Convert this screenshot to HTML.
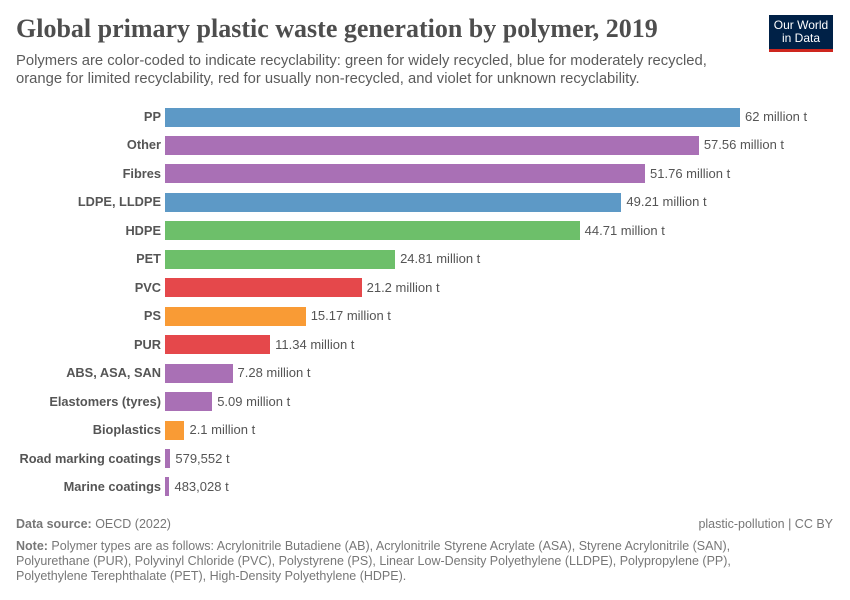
<!DOCTYPE html>
<html><head><style>
body{margin:0;width:850px;height:600px;background:#fff;font-family:"Liberation Sans",sans-serif;position:relative;overflow:hidden}
.a{position:absolute;white-space:nowrap}
.t{left:16px;top:14px;font-family:"Liberation Serif",serif;font-size:26px;font-weight:bold;color:#4e4e4e}
.s{left:16px;top:52px;font-size:14.8px;line-height:18px;color:#5b5b5b}
.l{right:689px;font-size:12.8px;font-weight:bold;color:#555;text-align:right}
.v{font-size:13px;color:#555}
.b{position:absolute;left:165px;height:19px}
.f{font-size:12.5px;color:#777}
</style></head><body>
<div class="a t">Global primary plastic waste generation by polymer, 2019</div>
<div class="a s">Polymers are color-coded to indicate recyclability: green for widely recycled, blue for moderately recycled,<br>orange for limited recyclability, red for usually non-recycled, and violet for unknown recyclability.</div>
<div class="a" style="left:769px;top:15px;width:64px;background:#002147;border-bottom:3px solid #ce261e;color:#fff;font-size:12px;line-height:13px;text-align:center;padding-top:4px;height:30px">Our World<br>in Data</div>
<div id="c"></div>
<div class="a f" style="left:16px;top:517px"><b>Data source:</b> OECD (2022)</div>
<div class="a f" style="right:17px;top:517px">plastic-pollution | CC BY</div>
<div class="a f" style="left:16px;top:539px;line-height:15px"><b>Note:</b> Polymer types are as follows: Acrylonitrile Butadiene (AB), Acrylonitrile Styrene Acrylate (ASA), Styrene Acrylonitrile (SAN),<br>Polyurethane (PUR), Polyvinyl Chloride (PVC), Polystyrene (PS), Linear Low-Density Polyethylene (LLDPE), Polypropylene (PP),<br>Polyethylene Terephthalate (PET), High-Density Polyethylene (HDPE).</div>
<script>
var B="#5d99c6",V="#a970b5",G="#6dbf6a",R="#e5484b",O="#f99b35";
var d=[["PP",62,"62 million t",B],["Other",57.56,"57.56 million t",V],["Fibres",51.76,"51.76 million t",V],["LDPE, LLDPE",49.21,"49.21 million t",B],["HDPE",44.71,"44.71 million t",G],["PET",24.81,"24.81 million t",G],["PVC",21.2,"21.2 million t",R],["PS",15.17,"15.17 million t",O],["PUR",11.34,"11.34 million t",R],["ABS, ASA, SAN",7.28,"7.28 million t",V],["Elastomers (tyres)",5.09,"5.09 million t",V],["Bioplastics",2.1,"2.1 million t",O],["Road marking coatings",0.579552,"579,552 t",V],["Marine coatings",0.483028,"483,028 t",V]];
var h="";d.forEach(function(r,i){var c=117+i*28.46,w=Math.max(r[1]*575/62,4);
h+='<div class="a l" style="top:'+(c-8)+'px">'+r[0]+'</div><div class="b" style="top:'+(c-9.5)+'px;width:'+w+'px;background:'+r[3]+'"></div><div class="a v" style="top:'+(c-8)+'px;left:'+(165+w+5)+'px">'+r[2]+'</div>';});
document.getElementById("c").innerHTML=h;
</script>
</body></html>
